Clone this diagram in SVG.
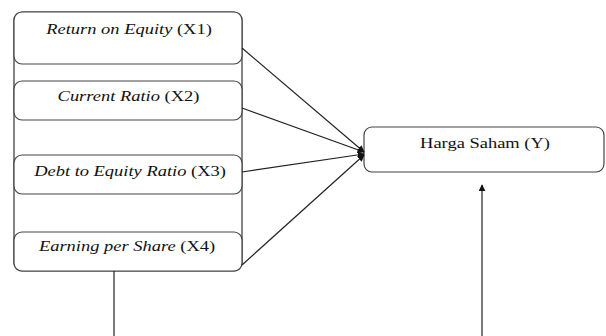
<svg xmlns="http://www.w3.org/2000/svg" width="606" height="336" viewBox="0 0 606 336">
<defs>
<style>
.box{fill:#fff;stroke:#444;stroke-width:1.2}
.frame{fill:none;stroke:#333;stroke-width:1.2}
.t{font-family:"Liberation Serif","Tinos","DejaVu Serif",serif;font-size:14px;fill:#111;text-anchor:middle}
.i{font-style:italic}
.c{stroke:#222;stroke-width:1.2;fill:none}
</style>
<marker id="ah" viewBox="0 0 10 10" refX="9" refY="5" markerWidth="7" markerHeight="7" orient="auto" markerUnits="userSpaceOnUse">
<path d="M0,0 L10,5 L0,10 z" fill="#111"/>
</marker>
</defs>
<g id="frame"><rect class="frame" x="14" y="12" width="228" height="259" rx="8"/></g>
<g id="x1"><rect class="box" x="14" y="12" width="228" height="52" rx="8"/><text class="t" transform="translate(129,34) scale(1.32,1)"><tspan class="i">Return on Equity</tspan> (X1)</text></g>
<g id="x2"><rect class="box" x="14" y="81" width="228" height="39" rx="8"/><text class="t" transform="translate(128.5,101) scale(1.32,1)"><tspan class="i">Current Ratio</tspan> (X2)</text></g>
<g id="x3"><rect class="box" x="14" y="155" width="228" height="39" rx="8"/><text class="t" transform="translate(130,176) scale(1.32,1)"><tspan class="i">Debt to Equity Ratio</tspan> (X3)</text></g>
<g id="x4"><rect class="box" x="14" y="232" width="228" height="39" rx="8"/><text class="t" transform="translate(127,251) scale(1.32,1)"><tspan class="i">Earning per Share</tspan> (X4)</text></g>
<g id="y"><rect class="box" x="364" y="127" width="240" height="45" rx="8"/><text class="t" transform="translate(485,148) scale(1.32,1)">Harga Saham (Y)</text></g>
<g id="connectors">
<line class="c" x1="242" y1="48" x2="364" y2="152" marker-end="url(#ah)"/>
<line class="c" x1="242" y1="108" x2="364" y2="152" marker-end="url(#ah)"/>
<line class="c" x1="242" y1="172" x2="364" y2="154" marker-end="url(#ah)"/>
<line class="c" x1="242" y1="265" x2="364" y2="155" marker-end="url(#ah)"/>
<line class="c" x1="114" y1="271" x2="114" y2="336"/>
<line class="c" x1="482" y1="336" x2="482" y2="185" marker-end="url(#ah)"/>
</g>
</svg>
